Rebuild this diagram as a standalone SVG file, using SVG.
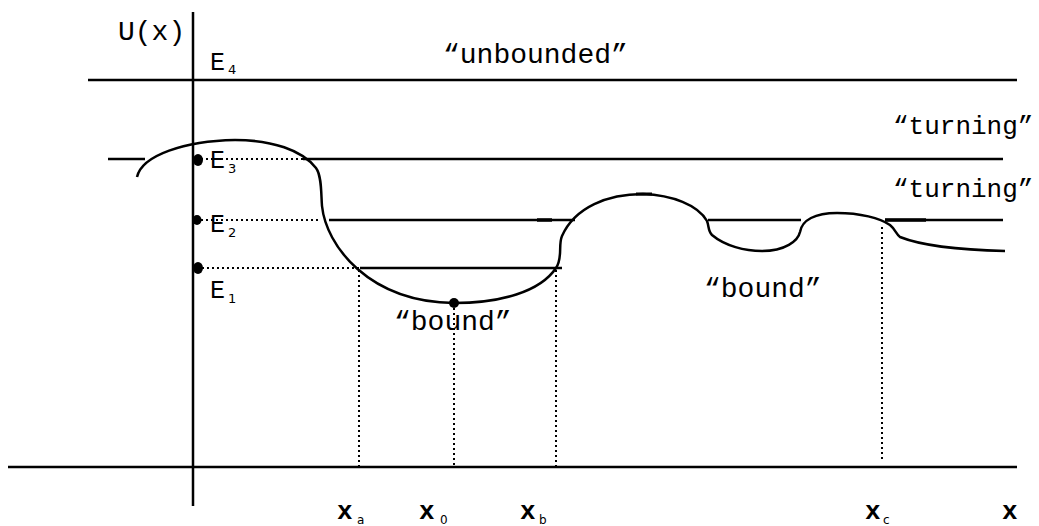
<svg xmlns="http://www.w3.org/2000/svg" width="1039" height="526" viewBox="0 0 1039 526">
<style>
.ln{stroke:#000;stroke-width:2.5;fill:none}
.dot{stroke:#000;stroke-width:2;stroke-dasharray:2 3;fill:none}
.t{font-family:"Liberation Mono","Courier New",monospace;fill:#000}
.q{font-size:28px}
.q2{font-size:26px}
.e{font-size:25px}
.s{font-family:"DejaVu Sans","Liberation Sans",sans-serif;font-size:13px;fill:#000}
.sx{font-family:"DejaVu Sans","Liberation Sans",sans-serif;font-size:12px;fill:#000}
.xl{font-size:26px;font-weight:bold}
</style>
<rect width="1039" height="526" fill="#fff"/>
<g id="axes">
<line class="ln" x1="193" y1="12" x2="193" y2="506"/>
<line class="ln" x1="8" y1="467" x2="1017" y2="467"/>
</g>
<g id="connectors">
<line class="ln" x1="88" y1="80" x2="1017" y2="80"/>
<line class="ln" x1="108" y1="159" x2="145" y2="159"/>
<line class="ln" x1="303" y1="159" x2="1003" y2="159"/>
<line class="ln" x1="329" y1="220" x2="575" y2="220"/>
<line class="ln" x1="708" y1="220" x2="801" y2="220"/>
<line class="ln" x1="885" y1="220" x2="1003" y2="220"/>
<line stroke="#000" stroke-width="3.5" x1="537" y1="220" x2="552" y2="220"/>
<line stroke="#000" stroke-width="3.5" x1="885" y1="220" x2="926" y2="220"/>
<line stroke="#000" stroke-width="3" x1="636" y1="194" x2="652" y2="194"/>
<line class="ln" x1="360" y1="268" x2="562" y2="268"/>
<line class="dot" x1="201" y1="159" x2="303" y2="159"/>
<line class="dot" x1="201" y1="220" x2="318" y2="220"/>
<line class="dot" x1="202" y1="268" x2="360" y2="268"/>
<line class="dot" x1="359" y1="270" x2="359" y2="466"/>
<line class="dot" x1="454" y1="308" x2="454" y2="466"/>
<line class="dot" x1="556" y1="270" x2="556" y2="466"/>
<line class="dot" x1="882" y1="227" x2="882" y2="462"/>
</g>
<g id="potential">
<path class="ln" d="M137,177 C142,155 185,141 235,140 C272,140 302,150 316,168 C322,176 321,195 322,206 C326,245 368,302 454,303 C500,303 540,292 556,268 C563,258 558,245 562,236 C575,207 608,194 643,194 C672,195 698,205 707,221 C709,226 708,231 712,235 C725,246 745,251 762,251 C785,251 798,241 800,232 C802,220 815,213 837,213 C860,213 880,218 890,225 C895,229 896,234 900,237 C925,247 965,250 1005,251"/>
</g>
<g id="points">
<ellipse cx="198" cy="160" rx="5" ry="6"/>
<ellipse cx="197" cy="220" rx="4.5" ry="5"/>
<ellipse cx="198" cy="268" rx="5" ry="6"/>
<circle cx="454" cy="303" r="5"/>
</g>
<g id="labels">
<text class="t" x="118" y="40" font-size="28">U(x)</text>
<text class="t e" x="210" y="70">E</text><text class="s" x="228" y="74">4</text>
<text class="t e" x="210" y="168">E</text><text class="s" x="228" y="173">3</text>
<text class="t e" x="210" y="232">E</text><text class="s" x="228" y="237">2</text>
<text class="t e" x="210" y="298">E</text><text class="s" x="228" y="303">1</text>
<text class="t q" x="443" y="63">“unbounded”</text>
<text class="t q2" x="893" y="134">“turning”</text>
<text class="t q2" x="893" y="197">“turning”</text>
<text class="t q" x="394" y="330">“bound”</text>
<text class="t q" x="704" y="297">“bound”</text>
<text class="t xl" x="337" y="519">x</text><text class="sx" x="357" y="524">a</text>
<text class="t xl" x="419" y="519">x</text><text class="sx" x="440" y="524">0</text>
<text class="t xl" x="520" y="519">x</text><text class="sx" x="539" y="524">b</text>
<text class="t xl" x="865" y="519">x</text><text class="sx" x="883" y="524">c</text>
<text class="t xl" x="1002" y="519">x</text>
</g>
</svg>
